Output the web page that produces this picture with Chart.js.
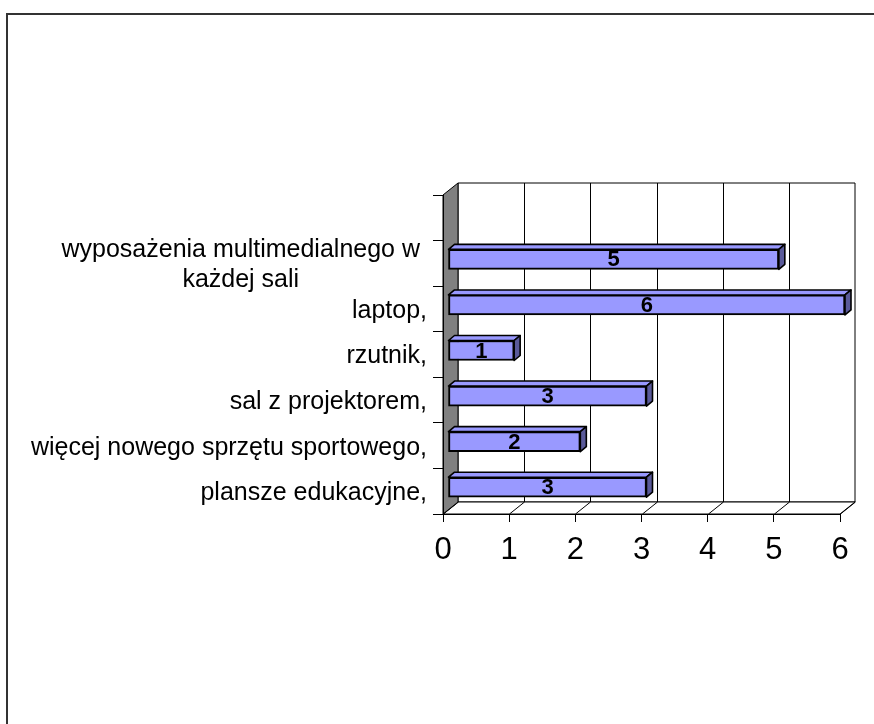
<!DOCTYPE html>
<html>
<head>
<meta charset="utf-8">
<script src="https://cdn.jsdelivr.net/npm/chart.js@4.4.1/dist/chart.umd.min.js"></script>
<style>
  html, body { margin: 0; padding: 0; background: #fff; }
  canvas { display: block; }
</style>
</head>
<body>
<canvas id="chart" width="874" height="724"></canvas>
<script>
// dane wykresu (od góry do dołu)
const categories = [
    '',
    ['wyposażenia multimedialnego w', 'każdej sali'],
    'laptop,',
    'rzutnik,',
    'sal z projektorem,',
    'więcej nowego sprzętu sportowego,',
    'plansze edukacyjne,'
];
const values = [null, 5, 6, 1, 3, 2, 3];
const xMin = 0;
const xMax = 6;
const xStep = 1;

const FONT = '"Liberation Sans", Arial, sans-serif';
const DEPTH_X = 15, DEPTH_Y = 12;   // glebokosc scian
const BAR_DX = 5, BAR_DY = -4;      // przesuniecie slupka w glab
const BAR_D = 6, BAR_DH = 5;        // grubosc slupka 3D

function poly(ctx, pts, fill, stroke, lw) {
    ctx.beginPath();
    ctx.moveTo(pts[0][0], pts[0][1]);
    for (let i = 1; i < pts.length; i++) ctx.lineTo(pts[i][0], pts[i][1]);
    ctx.closePath();
    if (fill) { ctx.fillStyle = fill; ctx.fill(); }
    if (stroke) { ctx.strokeStyle = stroke; ctx.lineWidth = lw || 1; ctx.stroke(); }
}

const walls3d = {
    id: 'walls3d',
    beforeDraw(chart) {
        const { ctx, chartArea: a, scales: { x } } = chart;
        ctx.save();
        // ramka
        ctx.strokeStyle = '#333';
        ctx.lineWidth = 2;
        ctx.beginPath();
        ctx.moveTo(874, 14); ctx.lineTo(7, 14); ctx.lineTo(7, 724);
        ctx.stroke();

        const L = a.left, R = a.right, T = a.top, B = a.bottom;
        // tylna sciana
        poly(ctx, [[L + DEPTH_X, T - DEPTH_Y], [R + DEPTH_X, T - DEPTH_Y], [R + DEPTH_X, B - DEPTH_Y], [L + DEPTH_X, B - DEPTH_Y]], '#fff', '#000', 1);
        // podloga
        poly(ctx, [[L, B], [L + DEPTH_X, B - DEPTH_Y], [R + DEPTH_X, B - DEPTH_Y], [R, B]], '#fff', '#000', 1);
        // linie siatki
        ctx.strokeStyle = '#000';
        ctx.lineWidth = 1;
        for (let v = xMin; v <= xMax; v += xStep) {
            const px = Math.round(x.getPixelForValue(v)) + 0.5;
            ctx.beginPath();
            ctx.moveTo(px, B);
            ctx.lineTo(px + DEPTH_X, B - DEPTH_Y);
            if (v > xMin && v < xMax) ctx.lineTo(px + DEPTH_X, T - DEPTH_Y);
            ctx.stroke();
        }
        // lewa sciana
        poly(ctx, [[L, T], [L + DEPTH_X, T - DEPTH_Y], [L + DEPTH_X, B - DEPTH_Y], [L, B]], '#808080', '#000', 1);
        ctx.restore();
    },
    beforeDatasetsDraw(chart) {
        chart.ctx.save();
        chart.ctx.translate(BAR_DX, BAR_DY);
    },
    afterDatasetsDraw(chart) {
        const ctx = chart.ctx;
        ctx.restore();
        ctx.save();
        const meta = chart.getDatasetMeta(0);
        meta.data.forEach((bar, i) => {
            if (values[i] === null) return;
            const p = bar.getProps(['x', 'y', 'base', 'height'], true);
            const x0 = p.base + BAR_DX, x1 = p.x + BAR_DX;
            const yT = p.y + BAR_DY - p.height / 2, yB = p.y + BAR_DY + p.height / 2;
            ctx.lineJoin = 'round';
            poly(ctx, [[x0, yT], [x0 + BAR_D, yT - BAR_DH], [x1 + BAR_D, yT - BAR_DH], [x1, yT]], '#9999ff', '#000', 1.6);
            poly(ctx, [[x1, yT], [x1 + BAR_D, yT - BAR_DH], [x1 + BAR_D, yB - BAR_DH], [x1, yB]], '#5a5a9a', '#000', 1.6);
            // etykieta wartosci
            ctx.fillStyle = '#000';
            ctx.font = 'bold 22px ' + FONT;
            ctx.textAlign = 'center';
            ctx.textBaseline = 'middle';
            ctx.fillText(String(values[i]), (x0 + x1) / 2, p.y + BAR_DY + 1);
        });
        ctx.restore();
    },
    afterDraw(chart) {
        const { ctx, scales: { y } } = chart;
        ctx.save();
        ctx.fillStyle = '#000';
        ctx.font = '25px ' + FONT;
        ctx.textBaseline = 'middle';
        categories.forEach((lab, i) => {
            const cy = y.getPixelForValue(i) + 2;
            if (Array.isArray(lab)) {
                const w = Math.max(...lab.map(s => ctx.measureText(s).width));
                const cx = 420 - w / 2;
                ctx.textAlign = 'center';
                lab.forEach((s, k) => ctx.fillText(s, cx, cy + (k - (lab.length - 1) / 2) * 30));
            } else {
                ctx.textAlign = 'right';
                ctx.fillText(lab, 427, cy);
            }
        });
        ctx.restore();
    }
};

new Chart(document.getElementById('chart').getContext('2d'), {
    type: 'bar',
    data: {
        labels: categories,
        datasets: [{
            data: values,
            backgroundColor: '#9999ff',
            borderColor: '#000',
            borderWidth: 2,
            borderSkipped: false,
            barThickness: 20,
            clip: false
        }]
    },
    options: {
        indexAxis: 'y',
        responsive: false,
        animation: false,
        layout: { padding: { left: 0, right: 34, top: 195, bottom: 0 } },
        plugins: {
            legend: { display: false },
            tooltip: { enabled: false }
        },
        scales: {
            x: {
                min: xMin,
                max: xMax,
                ticks: { stepSize: xStep, color: '#000', padding: 10, font: { size: 31, family: FONT } },
                grid: { drawOnChartArea: false, drawTicks: true, tickLength: 8, color: '#000' },
                border: { display: true, color: '#000' },
                afterFit: s => { s.height = 210; }
            },
            y: {
                ticks: { display: false },
                grid: { offset: true, drawOnChartArea: false, drawTicks: true, tickLength: 10, color: '#000' },
                border: { display: true, color: '#000' },
                afterFit: s => { s.width = 443; }
            }
        }
    },
    plugins: [walls3d]
});
</script>
</body>
</html>
